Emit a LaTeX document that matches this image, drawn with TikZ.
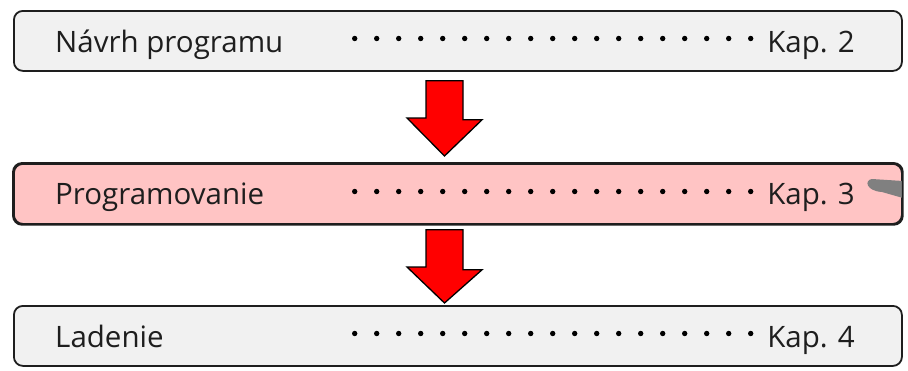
\documentclass[tikz,border=0pt]{standalone}
\usepackage{fontspec}
\setmainfont{Open Sans}
\usetikzlibrary{calc}
\definecolor{boxline}{HTML}{1E1E1E}
\definecolor{boxgrey}{HTML}{F1F1F1}
\definecolor{boxpink}{HTML}{FFC4C4}
\definecolor{inktext}{HTML}{1E1E1E}
\definecolor{flowred}{HTML}{FF0000}
\definecolor{pointergrey}{HTML}{808080}
\begin{document}
\begin{tikzpicture}[x=1pt,y=-1pt,
  stage/.style={draw=boxline, line width=1.8pt, rounded corners=9pt, fill=#1,
    minimum width=888pt, minimum height=60pt, anchor=north west, inner sep=0pt},
  label/.style={text=inktext, font=\fontsize{29.5}{32}\selectfont, inner sep=0pt},
  leaderdot/.style={fill=black},
  flowarrow/.style={fill=flowred, draw=black, line width=1.3pt, line join=miter}]
\useasboundingbox (0,0) rectangle (908,370);

% stage boxes
\node[stage=boxgrey] (b1) at (13,10) {};
\node[stage=boxpink] (b2) at (13,163) {};
\node[stage=boxgrey] (b3) at (13,305) {};

% grey pointer tip entering the middle box from the right
\begin{scope}
  \clip[rounded corners=9pt] (b2.north west) rectangle (b2.south east);
  \fill[pointergrey] (872,179) -- (903,181) -- (903,198)
    -- (882,192) .. controls (866,191) and (864,180) .. (872,179) -- cycle;
\end{scope}
\draw[draw=boxline, line width=1.8pt, rounded corners=9pt] (b2.north west) rectangle (b2.south east);

% titles and chapter references
\node[label, anchor=base west] (t1) at (55,52) {Návrh programu};
\node[label, anchor=base east] (k1) at (855,52) {Kap. 2};
\node[label, anchor=base west] (t2) at (55,204) {Programovanie};
\node[label, anchor=base east] (k2) at (855,204) {Kap. 3};
\node[label, anchor=base west] (t3) at (55,347) {Ladenie};
\node[label, anchor=base east] (k3) at (855,347) {Kap. 4};

% dotted leaders
\foreach \yy in {38.5,191.5,333.5}
  \foreach \i in {0,...,18}
    \fill[leaderdot] (354.7+22*\i,\yy) circle (2.7pt);

% block arrows between the stages
\coordinate (a1) at ($(b1.south west)+(431.5,9)$);
\coordinate (a2) at ($(b2.south west)+(431.5,5)$);
\draw[flowarrow] (a1) ++(-18.5,0) -- ++(37,0) -- ++(0,39) -- ++(19,0)
  -- ($(b2.north west)+(431.5,-7)$) -- ++(-37.5,-38) -- ++(19,0) -- cycle;
\draw[flowarrow] (a2) ++(-18.5,0) -- ++(37,0) -- ++(0,40) -- ++(19,0)
  -- ($(b3.north west)+(431.5,-2)$) -- ++(-37.5,-36) -- ++(19,0) -- cycle;
\end{tikzpicture}
\end{document}
